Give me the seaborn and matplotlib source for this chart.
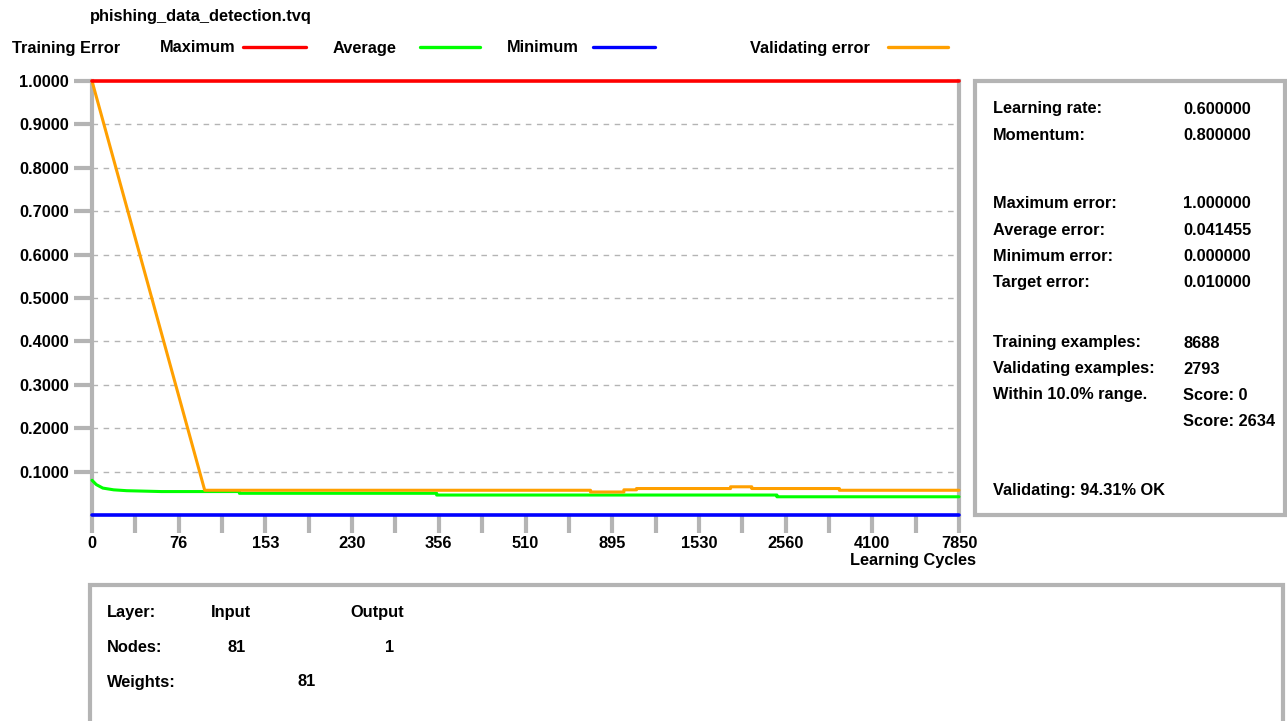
import numpy as np
import pandas as pd
import matplotlib
matplotlib.use("Agg")
import matplotlib.pyplot as plt
import seaborn as sns
from matplotlib.patches import Rectangle
from matplotlib.lines import Line2D

# ---------------- data ----------------
title = "phishing_data_detection.tvq"
cycle_labels = ["0", "76", "153", "230", "356", "510", "895", "1530", "2560", "4100", "7850"]
# x values expressed in tick-slot units (0 .. 20, labels on even slots)
max_x = [0, 20]
max_y = [1.0, 1.0]
min_x = [0, 20]
min_y = [0.0, 0.0]
avg_x = [0, 0.1, 0.25, 0.5, 0.8, 1.2, 1.6, 3.4, 3.4, 7.95, 7.95, 15.8, 15.8, 20]
avg_y = [0.080, 0.070, 0.062, 0.058, 0.056, 0.055, 0.054, 0.054, 0.050, 0.050,
         0.046, 0.046, 0.042, 0.042]
val_x = [0, 2.6, 11.5, 11.5, 12.27, 12.27, 12.56, 12.56, 14.73, 14.73, 15.22,
         15.22, 17.24, 17.24, 20]
val_y = [1.0, 0.057, 0.057, 0.053, 0.053, 0.058, 0.058, 0.061, 0.061, 0.065,
         0.065, 0.061, 0.061, 0.057, 0.057]
y_ticks = [0.1, 0.2, 0.3, 0.4, 0.5, 0.6, 0.7, 0.8, 0.9, 1.0]

legend_names = ["Maximum", "Average", "Minimum", "Validating error"]
legend_colors = ["#ff0000", "#00ff00", "#0000ff", "#ffa000"]

info_labels = ["Learning rate:", "Momentum:", "Maximum error:", "Average error:",
               "Minimum error:", "Target error:", "Training examples:",
               "Validating examples:", "Within 10.0% range.", "", "Validating: 94.31% OK"]
info_values = ["0.600000", "0.800000", "1.000000", "0.041455", "0.000000",
               "0.010000", "8688", "2793", "Score: 0", "Score: 2634", ""]
info_rows_y = [109, 135, 204, 230, 256, 282, 343, 369, 395, 421, 491]

layer_names = ["Input", "Output"]
layer_nodes = ["81", "1"]
weights_count = "81"

# ---------------- style ----------------
sns.set_theme(style="white")
plt.rcParams["font.family"] = ["Liberation Sans", "DejaVu Sans"]
plt.rcParams["font.weight"] = "bold"
plt.rcParams["text.color"] = "black"
GRAY = "#b4b4b4"
FS = 11.8

W, H = 1287, 721
fig = plt.figure(figsize=(W / 100, H / 100), dpi=100)
fig.patch.set_facecolor("white")

def fx(px):
    return px / W

def fy(py):
    return 1 - py / H

ax = fig.add_axes([fx(92), fy(515), fx(959) - fx(92), fy(81) - fy(515)])
ax.set_facecolor("white")

df_max = pd.DataFrame({"x": max_x, "y": max_y})
df_min = pd.DataFrame({"x": min_x, "y": min_y})
df_avg = pd.DataFrame({"x": avg_x, "y": avg_y})
df_val = pd.DataFrame({"x": val_x, "y": val_y})

for t in y_ticks[:-1]:
    ax.axhline(t, color=GRAY, lw=1.0, ls=(0, (4, 4)), zorder=1)

sns.lineplot(data=df_avg, x="x", y="y", ax=ax, color=legend_colors[1], lw=2.2,
             estimator=None, sort=False, zorder=3)
sns.lineplot(data=df_val, x="x", y="y", ax=ax, color=legend_colors[3], lw=2.2,
             estimator=None, sort=False, zorder=4)
sns.lineplot(data=df_max, x="x", y="y", ax=ax, color=legend_colors[0], lw=2.6,
             estimator=None, sort=False, zorder=5)
sns.lineplot(data=df_min, x="x", y="y", ax=ax, color=legend_colors[2], lw=2.6,
             estimator=None, sort=False, zorder=5)
for ln in ax.lines:
    ln.set_clip_on(False)

ax.set_xlim(0, 20)
ax.set_ylim(0, 1)
ax.set_xlabel("")
ax.set_ylabel("")
ax.set_xticks(range(21))
xt = []
for i in range(21):
    xt.append(cycle_labels[i // 2] if i % 2 == 0 else "")
ax.set_xticklabels(xt, fontsize=FS, fontweight="bold")
ax.set_yticks(y_ticks)
ax.set_yticklabels([f"{v:.4f}" for v in y_ticks], fontsize=FS, fontweight="bold")
ax.tick_params(axis="both", direction="out", color=GRAY, width=3.0, length=13,
               labelcolor="black", pad=2, bottom=True, left=True)
ax.tick_params(axis="y", pad=3.5)
for s in ["top", "bottom"]:
    ax.spines[s].set_visible(False)
for s in ["left", "right"]:
    ax.spines[s].set_visible(True)
    ax.spines[s].set_color(GRAY)
    ax.spines[s].set_linewidth(3.0)
ax.grid(False)

fig.text(fx(913), fy(561), "Learning Cycles", ha="center", va="center",
         fontsize=FS, fontweight="bold")

# title & legend row
fig.text(fx(90), fy(17), title, ha="left", va="center", fontsize=FS, fontweight="bold")
fig.text(fx(12), fy(48), "Training Error", ha="left", va="center", fontsize=FS, fontweight="bold")
leg_text_x = [160, 333, 507, 750]
leg_line_x = [(243, 306), (420, 480), (593, 655), (888, 948)]
for name, col, tx, (a, b) in zip(legend_names, legend_colors, leg_text_x, leg_line_x):
    fig.text(fx(tx), fy(48), name, ha="left", va="center", fontsize=FS, fontweight="bold")
    fig.add_artist(Line2D([fx(a), fx(b)], [fy(47), fy(47)], color=col, lw=2.4,
                          transform=fig.transFigure))

# right info panel
fig.add_artist(Rectangle((fx(975), fy(515)), fx(1285) - fx(975), fy(81) - fy(515),
                         transform=fig.transFigure, fill=False, edgecolor=GRAY, lw=3.0))
for lab, val, yy in zip(info_labels, info_values, info_rows_y):
    if lab:
        fig.text(fx(993), fy(yy), lab, ha="left", va="center", fontsize=FS, fontweight="bold")
    if val:
        fig.text(fx(1183), fy(yy), val, ha="left", va="center", fontsize=FS, fontweight="bold")

# bottom network panel
fig.add_artist(Rectangle((fx(90), fy(740)), fx(1283) - fx(90), fy(585) - fy(740),
                         transform=fig.transFigure, fill=False, edgecolor=GRAY, lw=3.0,
                         clip_on=False))
fig.text(fx(107), fy(613), "Layer:", ha="left", va="center", fontsize=FS, fontweight="bold")
fig.text(fx(211), fy(613), layer_names[0], ha="left", va="center", fontsize=FS, fontweight="bold")
fig.text(fx(350), fy(613), layer_names[1], ha="left", va="center", fontsize=FS, fontweight="bold")
fig.text(fx(107), fy(647), "Nodes:", ha="left", va="center", fontsize=FS, fontweight="bold")
fig.text(fx(228), fy(647), layer_nodes[0], ha="left", va="center", fontsize=FS, fontweight="bold")
fig.text(fx(385), fy(647), layer_nodes[1], ha="left", va="center", fontsize=FS, fontweight="bold")
fig.text(fx(107), fy(682), "Weights:", ha="left", va="center", fontsize=FS, fontweight="bold")
fig.text(fx(298), fy(682), weights_count, ha="left", va="center", fontsize=FS, fontweight="bold")

fig.savefig("out.png", dpi=100, facecolor="white")
